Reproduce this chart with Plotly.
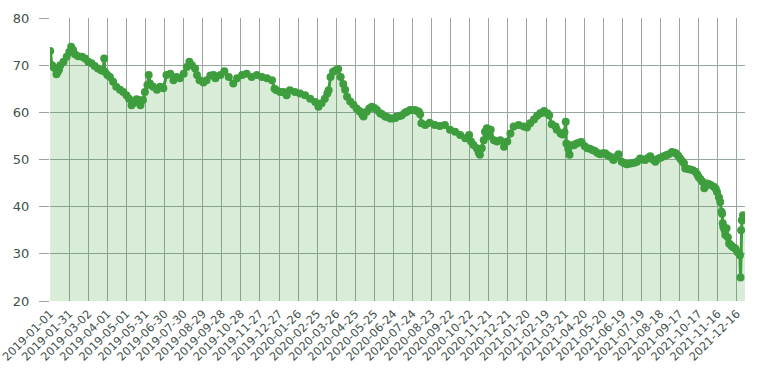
import pandas as pd
import plotly.graph_objects as go

start_date = "2019-01-01"

# day offsets from start_date
day_offsets = [
    0, 3, 5, 8, 10, 12, 14, 16, 21, 26, 30, 33, 36, 39, 44, 50, 55, 60, 65, 70,
    75, 80, 83, 85, 86, 90, 94, 99, 104, 110, 115, 120, 124, 128, 131, 133, 136, 139, 142, 146,
    149, 153, 155, 157, 162, 168, 173, 178, 183, 189, 194, 199, 204, 210, 215, 219, 223, 228, 231, 235,
    241, 246, 252, 257, 260, 268, 274, 281, 288, 294, 302, 309, 317, 325, 333, 341, 349, 353, 356, 362,
    367, 372, 377, 385, 393, 401, 409, 417, 422, 427, 432, 436, 438, 441, 445, 449, 453, 457, 461, 464,
    467, 472, 477, 482, 486, 488, 491, 493, 498, 502, 506, 510, 514, 519, 522, 527, 530, 535, 538, 543,
    545, 550, 553, 558, 561, 566, 569, 574, 577, 580, 582, 584, 590, 597, 605, 613, 621, 629, 637, 645,
    653, 659, 662, 666, 671, 674, 676, 679, 682, 684, 687, 690, 693, 698, 703, 708, 714, 719, 724, 729,
    737, 745, 750, 755, 761, 766, 771, 774, 777, 782, 785, 789, 795, 797, 803, 806, 809, 811, 812, 815,
    817, 820, 824, 828, 833, 836, 841, 845, 849, 853, 857, 861, 865, 869, 873, 877, 881, 886, 891, 894,
    899, 903, 907, 911, 915, 919, 923, 928, 932, 936, 940, 944, 948, 952, 957, 961, 965, 969, 973, 978,
    981, 984, 988, 991, 994, 997, 999, 1003, 1007, 1011, 1015, 1018, 1020, 1023, 1026, 1029, 1031, 1033, 1036, 1039,
    1044, 1047, 1049, 1052, 1054, 1056, 1057, 1058, 1059, 1061, 1062, 1064, 1066, 1068, 1071, 1073, 1076, 1078, 1081, 1084,
    1085, 1086, 1087, 1088, 1090, 1093,
]

values = [
    73.0, 70.0, 69.6, 69.3, 68.1, 68.6, 69.1, 70.0, 70.7, 71.8, 72.8, 73.9, 73.2, 72.3, 71.9, 71.8, 71.4, 70.7, 70.4, 69.8,
    69.3, 68.9, 68.8, 71.4, 68.6, 67.9, 67.5, 66.5, 65.4, 64.8, 64.3, 63.6, 62.9, 61.5, 62.0, 62.2, 62.8, 62.6, 61.5, 62.6,
    64.3, 65.8, 67.9, 66.1, 65.4, 64.8, 65.4, 65.1, 67.9, 68.2, 66.8, 67.5, 67.2, 68.2, 69.6, 70.7, 70.0, 69.3, 67.9, 66.8,
    66.3, 66.8, 67.8, 67.9, 67.2, 67.9, 68.7, 67.5, 66.1, 67.2, 67.9, 68.2, 67.5, 67.9, 67.5, 67.2, 66.8, 65.0, 64.7, 64.3,
    64.3, 63.6, 64.7, 64.3, 64.0, 63.6, 62.9, 62.2, 61.2, 61.9, 62.9, 64.0, 64.7, 67.5, 68.6, 68.9, 69.2, 67.5, 66.0, 64.8,
    63.3, 62.3, 61.6, 60.8, 60.3, 60.1, 59.5, 59.1, 60.1, 60.8, 61.2, 60.9, 60.5, 59.8, 59.6, 59.1, 59.0, 58.7, 58.7, 58.8,
    59.1, 59.2, 59.4, 59.9, 60.1, 60.5, 60.5, 60.5, 60.3, 60.1, 59.6, 57.7, 57.3, 57.8, 57.3, 57.1, 57.3, 56.3, 55.9, 55.2,
    54.5, 55.2, 53.8, 53.1, 52.4, 51.5, 51.0, 52.4, 54.1, 55.9, 56.6, 55.0, 56.3, 54.1, 53.8, 54.1, 52.7, 53.8, 55.5, 57.0,
    57.3, 57.0, 56.8, 57.7, 58.5, 59.3, 59.8, 59.9, 60.3, 59.8, 59.4, 57.5, 57.0, 56.3, 55.5, 55.3, 55.8, 58.0, 53.4, 52.3,
    51.0, 53.0, 53.0, 53.4, 53.6, 53.7, 52.8, 52.4, 52.3, 52.0, 51.8, 51.4, 51.1, 51.3, 51.3, 50.9, 50.6, 49.9, 50.6, 51.1,
    49.5, 49.2, 49.0, 49.1, 49.2, 49.3, 49.5, 50.2, 50.0, 49.9, 50.3, 50.7, 50.0, 49.5, 50.2, 50.4, 50.7, 50.9, 51.1, 51.6,
    51.5, 51.3, 50.8, 50.2, 49.7, 49.2, 48.1, 48.0, 47.9, 47.7, 47.4, 46.8, 46.3, 45.8, 45.3, 43.9, 44.5, 44.9, 44.8, 44.6,
    44.2, 43.8, 43.1, 42.0, 41.0, 38.9, 38.5, 36.5, 35.7, 35.0, 34.0, 35.4, 33.5, 32.2, 31.8, 31.5, 31.3, 31.1, 30.4, 30.0,
    29.7, 25.0, 35.0, 37.1, 38.2, 38.0,
]

x_tick_labels = [
    "2019-01-01", "2019-01-31", "2019-03-02", "2019-04-01", "2019-05-01", "2019-05-31",
    "2019-06-30", "2019-07-30", "2019-08-29", "2019-09-28", "2019-10-28", "2019-11-27",
    "2019-12-27", "2020-01-26", "2020-02-25", "2020-03-26", "2020-04-25", "2020-05-25",
    "2020-06-24", "2020-07-24", "2020-08-23", "2020-09-22", "2020-10-22", "2020-11-21",
    "2020-12-21", "2021-01-20", "2021-02-19", "2021-03-21", "2021-04-20", "2021-05-20",
    "2021-06-19", "2021-07-19", "2021-08-18", "2021-09-17", "2021-10-17", "2021-11-16",
    "2021-12-16",
]

y_tick_values = [20, 30, 40, 50, 60, 70, 80]

dates = pd.Timestamp(start_date) + pd.to_timedelta(day_offsets, unit="D")

LINE = "#3e9e3e"
GRID = "#98a69e"
TEXT = "#3f514b"

fig = go.Figure(
    go.Scatter(
        x=dates,
        y=values,
        mode="lines+markers",
        fill="tozeroy",
        fillcolor="rgba(62,158,62,0.2)",
        line=dict(color=LINE, width=3),
        marker=dict(size=8, color=LINE),
        showlegend=False,
        hoverinfo="x+y",
    )
)

fig.update_layout(
    width=757,
    height=380,
    margin=dict(l=50, r=12, t=18, b=79, autoexpand=False),
    paper_bgcolor="white",
    plot_bgcolor="white",
    font=dict(family="DejaVu Sans", size=12, color=TEXT),
)

fig.update_xaxes(
    type="date",
    range=[dates[0] - pd.Timedelta(hours=6), dates[-1]],
    automargin=False,
    tickmode="array",
    tickvals=x_tick_labels,
    ticktext=x_tick_labels,
    tickangle=-45,
    ticklabeloverflow="allow",
    ticklabelstandoff=3,
    showgrid=True,
    gridcolor=GRID,
    gridwidth=1,
    zeroline=False,
    showline=False,
    ticks="",
    tickfont=dict(family="DejaVu Sans", size=11.4, color=TEXT),
)

fig.update_yaxes(
    range=[20, 80],
    automargin=False,
    tickmode="array",
    tickvals=y_tick_values,
    ticktext=[str(v) for v in y_tick_values],
    showgrid=True,
    gridcolor=GRID,
    gridwidth=1,
    zeroline=False,
    showline=False,
    ticks="outside",
    ticklen=10,
    tickcolor=GRID,
    tickwidth=1,
    ticklabelstandoff=7,
    tickfont=dict(family="DejaVu Sans", size=13, color=TEXT),
)

# remove the default page margin so the figure sits at the window's corner
fig.write_html(
    "out.html",
    config={"displayModeBar": False},
    post_script="document.body.style.margin='0';"
    "document.querySelectorAll('.main-svg').forEach(function(s){s.style.overflow='visible';});",
)
